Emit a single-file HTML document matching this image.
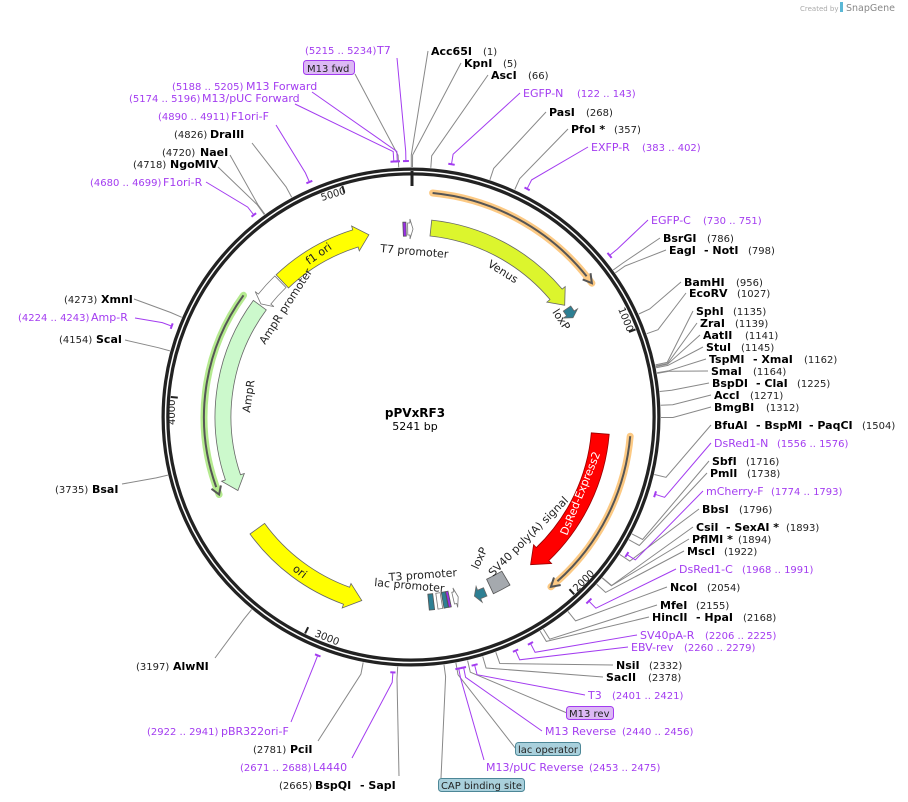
<!DOCTYPE html>
<html><head><meta charset="utf-8">
<style>
html,body{margin:0;padding:0;background:#fff;}
svg{display:block;font-family:"DejaVu Sans","Liberation Sans",sans-serif;}
.n{font-size:11px;font-weight:bold;fill:#000;}
.c{font-size:10px;fill:#222;}
.p{font-size:11px;fill:#a33cf0;}
.pc{font-size:10px;fill:#a33cf0;}
.f{font-size:11px;fill:#222;}
.b{font-size:10px;fill:#222;}
</style></head>
<body>
<svg id="s" width="908" height="802" viewBox="0 0 908 802" xmlns="http://www.w3.org/2000/svg">
<g id="lines"></g>
<circle cx="411" cy="417" r="245.5" fill="none" stroke="#222" stroke-width="8"/>
<circle cx="411" cy="417" r="245.5" fill="none" stroke="#fff" stroke-width="1.5"/>
<g id="feat"></g>

<text x="800" y="11" font-size="7" fill="#aaa">Created by</text>
<rect x="840" y="2" width="3" height="10" fill="#5bb8d6"/>
<text x="846" y="11" font-size="9.5" fill="#888">SnapGene</text>

<text x="415" y="417" text-anchor="middle" font-size="12" font-weight="bold">pPVxRF3</text>
<text x="415" y="430" text-anchor="middle" font-size="11">5241 bp</text>

<text class="f" transform="translate(380,252) rotate(5)">T7 promoter</text>
<text class="f" transform="translate(487,266) rotate(32)">Venus</text>
<text class="f" transform="translate(552,312) rotate(57)">loxP</text>
<text class="f" transform="translate(309,265) rotate(-35)">f1 ori</text>
<text class="f" transform="translate(265,345) rotate(-57)">AmpR promoter</text>
<text class="f" transform="translate(250,413) rotate(-82)">AmpR</text>
<text class="f" transform="translate(292,570) rotate(38)">ori</text>
<text class="f" transform="translate(389,581) rotate(-4)">T3 promoter</text>
<text class="f" transform="translate(374,586) rotate(5)">lac promoter</text>
<text class="f" transform="translate(478,570) rotate(-65)">loxP</text>
<text class="f" transform="translate(493,577) rotate(-45)">SV40 poly(A) signal</text>
<text font-size="11" fill="#fff" transform="translate(567,536) rotate(-68)">DsRed-Express2</text>
<text font-size="10" fill="#222" transform="translate(322,201) rotate(-17)">5000</text>
<text font-size="10" fill="#222" transform="translate(175,425) rotate(-90)">4000</text>
<text font-size="10" fill="#222" transform="translate(314,636) rotate(22)">3000</text>
<text font-size="10" fill="#222" transform="translate(577,592) rotate(-45)">2000</text>
<text font-size="10" fill="#222" transform="translate(618,309) rotate(68)">1000</text>

<text class="n" x="431" y="55">Acc65I</text><text class="c" x="483" y="55">(1)</text>
<text class="n" x="464" y="67">KpnI</text><text class="c" x="503" y="67">(5)</text>
<text class="n" x="491" y="79">AscI</text><text class="c" x="528" y="79">(66)</text>
<text class="p" x="523" y="97">EGFP-N</text><text class="pc" x="577" y="97">(122 .. 143)</text>
<text class="n" x="549" y="116">PasI</text><text class="c" x="586" y="116">(268)</text>
<text class="n" x="571" y="133">PfoI *</text><text class="c" x="614" y="133">(357)</text>
<text class="p" x="591" y="151">EXFP-R</text><text class="pc" x="642" y="151">(383 .. 402)</text>
<text class="p" x="651" y="224">EGFP-C</text><text class="pc" x="703" y="224">(730 .. 751)</text>
<text class="n" x="663" y="242">BsrGI</text><text class="c" x="707" y="242">(786)</text>
<text class="n" x="669" y="254">EagI</text><text class="n" x="704" y="254">- NotI</text><text class="c" x="748" y="254">(798)</text>
<text class="n" x="684" y="286">BamHI</text><text class="c" x="736" y="286">(956)</text>
<text class="n" x="689" y="297">EcoRV</text><text class="c" x="737" y="297">(1027)</text>
<text class="n" x="696" y="315">SphI</text><text class="c" x="733" y="315">(1135)</text>
<text class="n" x="700" y="327">ZraI</text><text class="c" x="735" y="327">(1139)</text>
<text class="n" x="703" y="339">AatII</text><text class="c" x="745" y="339">(1141)</text>
<text class="n" x="706" y="351">StuI</text><text class="c" x="741" y="351">(1145)</text>
<text class="n" x="709" y="363">TspMI</text><text class="n" x="753" y="363">- XmaI</text><text class="c" x="804" y="363">(1162)</text>
<text class="n" x="711" y="375">SmaI</text><text class="c" x="753" y="375">(1164)</text>
<text class="n" x="712" y="387">BspDI</text><text class="n" x="756" y="387">- ClaI</text><text class="c" x="797" y="387">(1225)</text>
<text class="n" x="714" y="399">AccI</text><text class="c" x="750" y="399">(1271)</text>
<text class="n" x="714" y="411">BmgBI</text><text class="c" x="766" y="411">(1312)</text>
<text class="n" x="714" y="429">BfuAI</text><text class="n" x="756" y="429">- BspMI</text><text class="n" x="809" y="429">- PaqCI</text><text class="c" x="862" y="429">(1504)</text>
<text class="p" x="714" y="447">DsRed1-N</text><text class="pc" x="777" y="447">(1556 .. 1576)</text>
<text class="n" x="712" y="465">SbfI</text><text class="c" x="746" y="465">(1716)</text>
<text class="n" x="710" y="477">PmlI</text><text class="c" x="747" y="477">(1738)</text>
<text class="p" x="706" y="495">mCherry-F</text><text class="pc" x="771" y="495">(1774 .. 1793)</text>
<text class="n" x="702" y="513">BbsI</text><text class="c" x="739" y="513">(1796)</text>
<text class="n" x="696" y="531">CsiI</text><text class="n" x="726" y="531">- SexAI *</text><text class="c" x="786" y="531">(1893)</text>
<text class="n" x="692" y="543">PflMI *</text><text class="c" x="738" y="543">(1894)</text>
<text class="n" x="687" y="555">MscI</text><text class="c" x="724" y="555">(1922)</text>
<text class="p" x="679" y="573">DsRed1-C</text><text class="pc" x="742" y="573">(1968 .. 1991)</text>
<text class="n" x="670" y="591">NcoI</text><text class="c" x="707" y="591">(2054)</text>
<text class="n" x="660" y="609">MfeI</text><text class="c" x="696" y="609">(2155)</text>
<text class="n" x="652" y="621">HincII</text><text class="n" x="696" y="621">- HpaI</text><text class="c" x="743" y="621">(2168)</text>
<text class="p" x="640" y="639">SV40pA-R</text><text class="pc" x="705" y="639">(2206 .. 2225)</text>
<text class="p" x="631" y="651">EBV-rev</text><text class="pc" x="684" y="651">(2260 .. 2279)</text>
<text class="n" x="616" y="669">NsiI</text><text class="c" x="649" y="669">(2332)</text>
<text class="n" x="606" y="681">SacII</text><text class="c" x="648" y="681">(2378)</text>
<text class="p" x="588" y="699">T3</text><text class="pc" x="612" y="699">(2401 .. 2421)</text>
<rect x="566.5" y="706.5" width="47" height="13" rx="3" fill="#dcb8f5" stroke="#a33cf0"/>
<text class="b" x="569" y="717">M13 rev</text>
<text class="p" x="545" y="735">M13 Reverse</text><text class="pc" x="622" y="735">(2440 .. 2456)</text>
<rect x="515.5" y="742.5" width="65" height="13" rx="3" fill="#a9d0dc" stroke="#4d8797"/>
<text class="b" x="518" y="753" textLength="60" lengthAdjust="spacingAndGlyphs">lac operator</text>
<text class="p" x="486" y="771">M13/pUC Reverse</text><text class="pc" x="589" y="771">(2453 .. 2475)</text>
<rect x="438.5" y="778.5" width="86" height="13" rx="3" fill="#a9d0dc" stroke="#4d8797"/>
<text class="b" x="441" y="789" textLength="81" lengthAdjust="spacingAndGlyphs">CAP binding site</text>

<text class="c" x="279" y="789">(2665)</text><text class="n" x="315" y="789">BspQI</text><text class="n" x="360" y="789">- SapI</text>
<text class="pc" x="240" y="771">(2671 .. 2688)</text><text class="p" x="313" y="771">L4440</text>
<text class="c" x="253" y="753">(2781)</text><text class="n" x="290" y="753">PciI</text>
<text class="pc" x="147" y="735">(2922 .. 2941)</text><text class="p" x="221" y="735">pBR322ori-F</text>
<text class="c" x="136" y="670">(3197)</text><text class="n" x="173" y="670">AlwNI</text>
<text class="c" x="55" y="493">(3735)</text><text class="n" x="92" y="493">BsaI</text>
<text class="c" x="59" y="343">(4154)</text><text class="n" x="96" y="343">ScaI</text>
<text class="pc" x="18" y="321">(4224 .. 4243)</text><text class="p" x="91" y="321">Amp-R</text>
<text class="c" x="64" y="303">(4273)</text><text class="n" x="101" y="303">XmnI</text>
<text class="pc" x="90" y="186">(4680 .. 4699)</text><text class="p" x="163" y="186">F1ori-R</text>
<text class="c" x="133" y="168">(4718)</text><text class="n" x="170" y="168">NgoMIV</text>
<text class="c" x="162" y="156">(4720)</text><text class="n" x="200" y="156">NaeI</text>
<text class="c" x="174" y="138">(4826)</text><text class="n" x="210" y="138">DraIII</text>
<text class="pc" x="158" y="120">(4890 .. 4911)</text><text class="p" x="231" y="120">F1ori-F</text>
<text class="pc" x="129" y="102">(5174 .. 5196)</text><text class="p" x="202" y="102">M13/pUC Forward</text>
<text class="pc" x="172" y="90">(5188 .. 5205)</text><text class="p" x="246" y="90">M13 Forward</text>
<rect x="303.5" y="60.5" width="51" height="14" rx="3" fill="#dcb8f5" stroke="#a33cf0"/>
<text class="b" x="307" y="72">M13 fwd</text>
<text class="pc" x="305" y="54">(5215 .. 5234)</text><text class="p" x="377" y="54">T7</text>
</svg>
<script>
(function(){
var cx=411,cy=417,NS="http://www.w3.org/2000/svg",L=5241;
function pt(r,a){a=a*Math.PI/180;return [cx+r*Math.sin(a),cy-r*Math.cos(a)];}
function P(p){return p[0].toFixed(1)+","+p[1].toFixed(1);}
function ang(bp){return bp/L*360;}
function add(g,tag,at){var e=document.createElementNS(NS,tag);for(var k in at)e.setAttribute(k,at[k]);document.getElementById(g).appendChild(e);return e;}
function arc(r,a1,a2){var d=a2>a1?1:0;var lg=Math.abs(a2-a1)>180?1:0;return "A"+r+","+r+" 0 "+lg+","+d+" "+P(pt(r,a2));}
function arrow(r,w,a1,a2,head,fill,stroke){
  var dir=a2>a1?1:-1,hd=head/r*180/Math.PI,ah=a2-dir*hd,o=r+w/2,i=r-w/2;
  var d="M"+P(pt(o,a1))+arc(o,a1,ah)+"L"+P(pt(o+4,ah))+"L"+P(pt(r,a2))+"L"+P(pt(i-4,ah))+"L"+P(pt(i,ah))+arc(i,ah,a1)+"Z";
  add("feat","path",{d:d,fill:fill,stroke:stroke||"#666","stroke-width":0.8});
}
function box(r,w,a1,a2,fill,stroke){var o=r+w/2,i=r-w/2;
  add("feat","path",{d:"M"+P(pt(o,a1))+arc(o,a1,a2)+"L"+P(pt(i,a2))+arc(i,a2,a1)+"Z",fill:fill,stroke:stroke||"#555","stroke-width":0.8});}
function hline(r,a1,a2,hl){
  var dir=a2>a1?1:-1,ah=a2-dir*2.2;
  add("feat","path",{d:"M"+P(pt(r,a1))+arc(r,a1,a2),fill:"none",stroke:hl,"stroke-width":7,"stroke-linecap":"round"});
  add("feat","path",{d:"M"+P(pt(r,a1))+arc(r,a1,ah),fill:"none",stroke:"#555","stroke-width":2});
  add("feat","path",{d:"M"+P(pt(r+5,ah))+"L"+P(pt(r,a2))+"L"+P(pt(r-5,ah)),fill:"none",stroke:"#555","stroke-width":2});
}
[1000,2000,3000,4000,5000].forEach(function(b){var a=ang(b);add("feat","line",{x1:pt(241,a)[0],y1:pt(241,a)[1],x2:pt(234,a)[0],y2:pt(234,a)[1],stroke:"#222","stroke-width":2});});
add("feat","line",{x1:412,y1:171,x2:412,y2:186,stroke:"#222","stroke-width":3});
hline(225,5.5,53.5,"#fcc983");
hline(220,95,140.5,"#fcc983");
hline(207,306,248,"#b5ea8f");
arrow(190,16,6,54,14,"#dcf52d");
arrow(190,9,55.2,58.5,5,"#2d7f93");
arrow(190,18,95,141,16,"#ff0000","#900");
arrow(190,9,157,160.5,5,"#2d7f93");
box(187,16,149.5,155,"#a5a9ae");
arrow(190,18,234,195,16,"#ffff00");
arrow(188,16,306.5,247,14,"#ccf9cc");
arrow(188,16,316,307,6,"#ffffff","#777");
arrow(187,18,316.5,347,14,"#ffff00");
box(188,14,357.6,358.5,"#9b2de8");
arrow(188,12,359,360.6,3,"#ffffff","#777");
box(186,16,173,174.6,"#2d7f93");
box(186,16,170.6,172,"#ffffff","#777");
box(186,16,168.9,170.2,"#2d7f93");
box(186,16,168,168.8,"#9b2de8");
arrow(186,12,166.9,165.3,3,"#ffffff","#777");
var G="#888",Pu="#a33cf0";
var E=[[1,428,51],[5,461,63],[66,488,75],[268,546,112],[357,568,129],[786,660,238],[798,666,250],[956,681,282],[1027,686,293],
[1135,693,311],[1139,697,323],[1141,700,335],[1145,703,347],[1162,706,359],[1164,708,371],[1225,709,383],[1271,711,395],[1312,711,407],
[1504,711,425],[1716,709,461],[1738,707,473],[1796,699,509],[1893,693,527],[1894,689,539],[1922,684,551],[2054,667,587],[2155,657,605],
[2168,649,617],[2332,613,665],[2378,603,677],[2430,567,713],[2470,516,749],[2510,441,778],
[2665,399,776],[2781,318,741],[3197,215,658],[3735,122,484],[4154,125,340],[4273,134,299],[4718,218,167],[4720,230,155],[4826,252,143],[5200,355,74]];
E.forEach(function(e){var a=ang(e[0]),p1=pt(250,a),p2=pt(262,a);
 add("lines","path",{d:"M"+P(p1)+"L"+P(p2)+"L"+e[1]+","+e[2],fill:"none",stroke:G,"stroke-width":1});});
var PR=[[122,143,520,93],[383,402,588,147],[730,751,648,220],[1556,1576,711,443],[1774,1793,703,491],[1968,1991,676,569],[2206,2225,637,635],
[2260,2279,628,647],[2401,2421,585,695],[2440,2456,542,731],[2453,2475,484,760],[2671,2688,352,758],[2922,2941,291,722],[4224,4243,135,318],
[4680,4699,206,182],[4890,4911,276,125],[5174,5196,295,104],[5188,5205,312,92],[5215,5234,397,58]];
PR.forEach(function(e){var a1=ang(e[0]),a2=ang(e[1]),m=(a1+a2)/2;
 add("lines","path",{d:"M"+P(pt(256,a1))+arc(256,a1,a2),fill:"none",stroke:Pu,"stroke-width":2});
 add("lines","path",{d:"M"+P(pt(256,m))+"L"+P(pt(266,m))+"L"+e[2]+","+e[3],fill:"none",stroke:Pu,"stroke-width":1});});
})();
</script>
</body></html>
